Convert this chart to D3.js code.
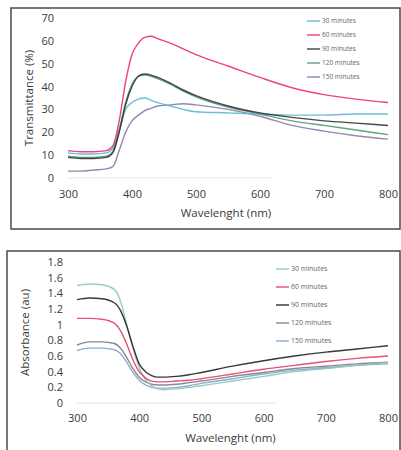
<!DOCTYPE html>
<html>
<head>
<meta charset="utf-8">
<script src="https://cdn.jsdelivr.net/npm/d3@7"></script>
<style>
  body { margin: 0; background: #fff; }
  svg { display: block; font-family: "Open Sans", sans-serif; }
</style>
</head>
<body>
<div id="chart"></div>
<script>
let seriesNames = ["30 minutes", "60 minutes", "90 minutes", "120 minutes", "150 minutes"];

let wavelengths = [300, 320, 340, 360, 370, 380, 390, 400, 410, 420, 430, 440, 460, 480, 500, 550, 600, 650, 700, 750, 800];

// transmittance (%)
let trans30 = [11, 10.5, 10.5, 11, 13, 21, 30, 33, 34.5, 35, 34, 33, 31.5, 30, 29, 28.5, 28, 27.5, 27.5, 28, 28];
let trans60 = [12, 11.5, 11.5, 12, 14, 25, 42, 54, 59, 61.5, 62, 61, 59, 56.5, 54, 49, 44, 39.5, 36.5, 34.5, 33];
let trans90 = [9, 8.5, 8.5, 9, 11, 20, 32, 40, 44.5, 45.5, 45, 44, 41.5, 38.5, 36, 31.5, 28.5, 26.5, 25, 24, 23];
let trans120 = [9.5, 9, 9, 9.5, 11.5, 21, 33, 41, 44.5, 45, 44.5, 43.5, 41, 38, 35.5, 31, 28, 25, 23, 21, 19];
let trans150 = [3, 3, 3.5, 4, 5, 12, 20, 25, 27.5, 29.5, 30.5, 31.5, 32, 32.5, 32, 30, 27, 23, 20.5, 18.5, 17];

// absorbance (au)
let abs30 = [1.5, 1.52, 1.51, 1.45, 1.3, 1.0, 0.7, 0.45, 0.3, 0.22, 0.18, 0.17, 0.18, 0.2, 0.22, 0.28, 0.34, 0.4, 0.44, 0.48, 0.52];
let abs60 = [1.08, 1.08, 1.07, 1.02, 0.92, 0.75, 0.55, 0.4, 0.32, 0.28, 0.27, 0.27, 0.28, 0.29, 0.31, 0.37, 0.43, 0.48, 0.53, 0.57, 0.6];
let abs90 = [1.32, 1.34, 1.33, 1.28, 1.18, 0.98, 0.72, 0.5, 0.4, 0.35, 0.33, 0.33, 0.34, 0.36, 0.39, 0.47, 0.54, 0.6, 0.65, 0.69, 0.73];
let abs120 = [0.74, 0.78, 0.78, 0.76, 0.7, 0.58, 0.44, 0.33, 0.27, 0.24, 0.23, 0.23, 0.24, 0.26, 0.28, 0.34, 0.39, 0.44, 0.47, 0.5, 0.52];
let abs150 = [0.67, 0.7, 0.7, 0.68, 0.63, 0.52, 0.39, 0.29, 0.23, 0.2, 0.19, 0.19, 0.2, 0.22, 0.25, 0.31, 0.37, 0.42, 0.45, 0.48, 0.5];

let transTicks = [0, 10, 20, 30, 40, 50, 60, 70];
let absTicks = [0, 0.2, 0.4, 0.6, 0.8, 1, 1.2, 1.4, 1.6, 1.8];
let xTicks = [300, 400, 500, 600, 700, 800];

let transColors = ["#5cb6d6", "#ee2f68", "#333333", "#4f9a72", "#8c79a6"];
let absColors = ["#8cc7b8", "#ec3a6c", "#222222", "#7c7c7c", "#86a2cf"];

let svg = d3
  .select("#chart")
  .append("svg")
  .attr("width", 401)
  .attr("height", 450);

function drawPanel(opts) {
  let g = svg.append("g");

  // frame round the panel
  g.append("rect")
    .attr("x", opts.box[0])
    .attr("y", opts.box[1])
    .attr("width", opts.box[2])
    .attr("height", opts.box[3])
    .attr("fill", "none")
    .attr("stroke", "#4a4a4a")
    .attr("stroke-width", 1.5);

  let x = d3.scaleLinear().domain([300, 800]).range(opts.xRange);
  let y = d3.scaleLinear().domain(opts.yDomain).range(opts.yRange);

  // faint baseline
  g.append("line")
    .attr("x1", x(300))
    .attr("x2", x(620))
    .attr("y1", y(0))
    .attr("y2", y(0))
    .attr("stroke", "#e6e6e6")
    .attr("stroke-width", 1);

  let yAxis = d3
    .axisLeft(y)
    .tickValues(opts.yTicks)
    .tickFormat(d => String(d))
    .tickSize(0)
    .tickPadding(0);
  g.append("g")
    .attr("transform", "translate(" + (x(300) - 14) + ",0)")
    .call(yAxis)
    .call(s => s.select(".domain").remove())
    .selectAll("text")
    .attr("font-size", 11)
    .attr("fill", "#3a3a3a")
    .attr("font-family", "Open Sans, sans-serif");

  let xAxis = d3.axisBottom(x).tickValues(xTicks).tickSize(0).tickPadding(0);
  g.append("g")
    .attr("transform", "translate(0," + (opts.xLabelY - 7) + ")")
    .call(xAxis)
    .call(s => s.select(".domain").remove())
    .selectAll("text")
    .attr("font-size", 11)
    .attr("fill", "#3a3a3a")
    .attr("font-family", "Open Sans, sans-serif");

  g.append("text")
    .text("Wavelenght (nm)")
    .attr("x", (opts.xRange[0] + opts.xRange[1]) / 2 - 2)
    .attr("y", opts.xTitleY)
    .attr("text-anchor", "middle")
    .attr("dominant-baseline", "middle")
    .attr("font-size", 11.5)
    .attr("fill", "#3a3a3a");

  g.append("text")
    .text(opts.yTitle)
    .attr("transform", "translate(" + opts.yTitleX + "," + (opts.yRange[0] + opts.yRange[1]) / 2 + ") rotate(-90)")
    .attr("text-anchor", "middle")
    .attr("dominant-baseline", "middle")
    .attr("font-size", 11.5)
    .attr("fill", "#3a3a3a");

  let line = d3
    .line()
    .x((d, i) => x(wavelengths[i]))
    .y(d => y(d))
    .curve(d3.curveMonotoneX);

  // draw back to front so the upper series sit on top
  g.append("g")
    .selectAll("path")
    .data(opts.order)
    .enter()
    .append("path")
    .attr("d", i => line(opts.series[i]))
    .attr("fill", "none")
    .attr("stroke", i => opts.colors[i])
    .attr("stroke-width", 1.4)
    .attr("opacity", 0.9);

  let legend = g
    .append("g")
    .selectAll("g")
    .data(seriesNames)
    .enter()
    .append("g")
    .attr("transform", (d, i) => "translate(" + opts.legendX + "," + (opts.legendY + i * opts.legendGap) + ")");

  legend
    .append("line")
    .attr("x1", 0)
    .attr("x2", opts.legendLine)
    .attr("stroke", (d, i) => opts.colors[i])
    .attr("stroke-width", 1.3);

  legend
    .append("text")
    .text(d => d)
    .attr("x", opts.legendLine + 2)
    .attr("dominant-baseline", "middle")
    .attr("font-size", opts.legendFont)
    .attr("fill", "#666");
}

drawPanel({
  box: [11, 8, 389, 221],
  xRange: [68, 388],
  yDomain: [0, 70],
  yRange: [178, 18],
  yTicks: transTicks,
  xLabelY: 197,
  xTitleY: 214,
  yTitle: "Transmittance (%)",
  yTitleX: 30,
  series: [trans30, trans60, trans90, trans120, trans150],
  colors: transColors,
  order: [4, 0, 3, 2, 1],
  legendX: 307,
  legendY: 21,
  legendGap: 14,
  legendLine: 13,
  legendFont: 6.5
});

drawPanel({
  box: [7, 251, 393, 205],
  xRange: [77, 388],
  yDomain: [0, 1.8],
  yRange: [403, 262],
  yTicks: absTicks,
  xLabelY: 421,
  xTitleY: 439,
  yTitle: "Absorbance (au)",
  yTitleX: 26,
  series: [abs30, abs60, abs90, abs120, abs150],
  colors: absColors,
  order: [4, 3, 0, 1, 2],
  legendX: 276,
  legendY: 269,
  legendGap: 18,
  legendLine: 13,
  legendFont: 7
});
</script>
</body>
</html>
